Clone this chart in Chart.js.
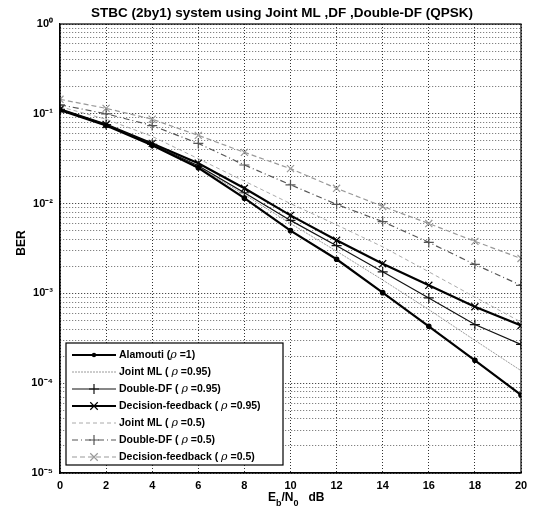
<!DOCTYPE html>
<html lang="en">
  <head>
    <meta charset="UTF-8" />
    <title>STBC BER</title>
    <script src="https://cdn.jsdelivr.net/npm/chart.js@4.4.0/dist/chart.umd.min.js"></script>
    <style>
      body { margin: 0; background: #fff; }
    </style>
  </head>
  <body>
    <canvas id="myChart" width="537" height="516"></canvas>

    <script>
      // Eb/N0 (dB) and BER values
      const snr = [0, 2, 4, 6, 8, 10, 12, 14, 16, 18, 20];
      const alamouti = [0.110, 0.074, 0.0447, 0.0251, 0.0115, 0.0050, 0.0024, 0.00102, 4.3e-4, 1.8e-4, 7.4e-5];
      const jointMl95 = [0.110, 0.074, 0.0447, 0.0257, 0.0126, 0.0060, 0.00295, 0.00141, 6.6e-4, 3.0e-4, 1.38e-4];
      const doubleDf95 = [0.112, 0.076, 0.0457, 0.0263, 0.0132, 0.0065, 0.0034, 0.00174, 8.9e-4, 4.5e-4, 2.7e-4];
      const decFb95 = [0.112, 0.076, 0.0468, 0.0282, 0.0148, 0.0074, 0.0039, 0.00214, 0.00123, 7.1e-4, 4.4e-4];
      const jointMl5 = [0.120, 0.087, 0.056, 0.0316, 0.0178, 0.0100, 0.0058, 0.0033, 0.00174, 9.1e-4, 4.8e-4];
      const doubleDf5 = [0.126, 0.100, 0.074, 0.0468, 0.0269, 0.0162, 0.0098, 0.0063, 0.0037, 0.0021, 0.00123];
      const decFb5 = [0.145, 0.115, 0.087, 0.0575, 0.0372, 0.0245, 0.0148, 0.0093, 0.0060, 0.0038, 0.00245];

      const xTicks = [0, 2, 4, 6, 8, 10, 12, 14, 16, 18, 20];
      const yMajors = [1, 1e-1, 1e-2, 1e-3, 1e-4, 1e-5];
      const yLabels = ["10\u2070", "10\u207B\u00B9", "10\u207B\u00B2", "10\u207B\u00B3", "10\u207B\u2074", "10\u207B\u2075"];

      const legendNames = [
        ["Alamouti (", " =1)"],
        ["Joint ML ( ", " =0.95)"],
        ["Double-DF ( ", " =0.95)"],
        ["Decision-feedback ( ", " =0.95)"],
        ["Joint ML ( ", " =0.5)"],
        ["Double-DF ( ", " =0.5)"],
        ["Decision-feedback ( ", " =0.5)"],
      ];

      function pts(ys) {
        return snr.map((x, i) => ({ x: x, y: ys[i] }));
      }

      function series(label, ys, color, width, dash, marker, radius) {
        return {
          label: label,
          data: pts(ys),
          borderColor: color,
          backgroundColor: color,
          borderWidth: width,
          borderDash: dash,
          pointStyle: marker,
          pointRadius: radius,
          pointBorderWidth: 1.2,
          pointBorderColor: color,
          pointBackgroundColor: color,
          fill: false,
          tension: 0,
        };
      }

      const datasets = [
        series("Alamouti", alamouti, "#000", 2.2, [], "circle", 2.2),
        series("Joint ML 0.95", jointMl95, "#9a9a9a", 1, [2, 1], false, 0),
        series("Double-DF 0.95", doubleDf95, "#111", 1.2, [], "cross", 5),
        series("Decision-feedback 0.95", decFb95, "#000", 2.2, [], "crossRot", 5),
        series("Joint ML 0.5", jointMl5, "#aaa", 1, [4, 3], false, 0),
        series("Double-DF 0.5", doubleDf5, "#555", 1.2, [6, 3, 1, 3], "cross", 5),
        series("Decision-feedback 0.5", decFb5, "#999", 1.2, [5, 3], "crossRot", 5),
      ];

      function drawMarker(ctx, style, x, y, r) {
        ctx.beginPath();
        if (style === "circle") {
          ctx.arc(x, y, r, 0, Math.PI * 2);
          ctx.fill();
          return;
        }
        if (style === "cross") {
          ctx.moveTo(x - r, y); ctx.lineTo(x + r, y);
          ctx.moveTo(x, y - r); ctx.lineTo(x, y + r);
        } else if (style === "crossRot") {
          const d = r * 0.75;
          ctx.moveTo(x - d, y - d); ctx.lineTo(x + d, y + d);
          ctx.moveTo(x - d, y + d); ctx.lineTo(x + d, y - d);
        }
        ctx.stroke();
      }

      const decorations = {
        id: "decorations",
        afterDraw(chart) {
          const ctx = chart.ctx;
          const a = chart.chartArea;
          ctx.save();

          // box around axes
          ctx.setLineDash([]);
          ctx.strokeStyle = "#000";
          ctx.lineWidth = 1.2;
          ctx.strokeRect(a.left, a.top, a.right - a.left, a.bottom - a.top);

          // title
          ctx.fillStyle = "#000";
          ctx.font = "bold 13.5px 'Liberation Sans', Arial, sans-serif";
          ctx.textAlign = "center";
          ctx.textBaseline = "middle";
          ctx.fillText("STBC (2by1) system using Joint ML ,DF ,Double-DF (QPSK)", 282, 13);

          // y title
          ctx.save();
          ctx.translate(22, 243);
          ctx.rotate(-Math.PI / 2);
          ctx.font = "bold 12px 'Liberation Sans', Arial, sans-serif";
          ctx.fillText("BER", 0, 0);
          ctx.restore();

          // x title: Eb/N0 dB
          let x = 268;
          const y = 498;
          ctx.textAlign = "left";
          const big = "bold 12px 'Liberation Sans', Arial, sans-serif";
          const small = "bold 9px 'Liberation Sans', Arial, sans-serif";
          const parts = [["E", big, 0], ["b", small, 6], ["/N", big, 0], ["0", small, 6], ["   dB", big, 0]];
          parts.forEach((p) => {
            ctx.font = p[1];
            ctx.fillText(p[0], x, y + p[2]);
            x += ctx.measureText(p[0]).width;
          });

          // legend
          const bx = 66, by = 343, bw = 217, bh = 122;
          ctx.fillStyle = "#fff";
          ctx.fillRect(bx, by, bw, bh);
          ctx.strokeStyle = "#000";
          ctx.lineWidth = 1.2;
          ctx.strokeRect(bx, by, bw, bh);
          chart.data.datasets.forEach((ds, i) => {
            const ry = by + 12 + i * 17;
            ctx.strokeStyle = ds.borderColor;
            ctx.fillStyle = ds.borderColor;
            ctx.lineWidth = ds.borderWidth;
            ctx.setLineDash(ds.borderDash);
            ctx.beginPath();
            ctx.moveTo(72, ry);
            ctx.lineTo(116, ry);
            ctx.stroke();
            ctx.setLineDash([]);
            ctx.lineWidth = 1.2;
            if (ds.pointStyle) drawMarker(ctx, ds.pointStyle, 94, ry, ds.pointRadius);
            ctx.fillStyle = "#000";
            ctx.textBaseline = "middle";
            let tx = 119;
            const name = legendNames[i];
            ctx.font = "bold 10.5px 'Liberation Sans', Arial, sans-serif";
            ctx.fillText(name[0], tx, ry);
            tx += ctx.measureText(name[0]).width;
            ctx.font = "italic 11px 'DejaVu Serif', serif";
            ctx.fillText("\u03C1", tx, ry);
            tx += ctx.measureText("\u03C1").width;
            ctx.font = "bold 10.5px 'Liberation Sans', Arial, sans-serif";
            ctx.fillText(name[1], tx, ry);
          });
          ctx.restore();
        },
      };

      const ctx = document.getElementById("myChart").getContext("2d");
      const myChart = new Chart(ctx, {
        type: "line",
        data: { datasets: datasets },
        options: {
          responsive: false,
          animation: false,
          layout: { padding: { left: 0, right: 16, top: 24, bottom: 0 } },
          plugins: {
            legend: { display: false },
            title: { display: false },
            tooltip: { enabled: false },
          },
          scales: {
            x: {
              type: "linear",
              min: 0,
              max: 20,
              afterBuildTicks(scale) {
                scale.ticks = xTicks.map((v) => ({ value: v }));
              },
              afterFit(scale) {
                scale.height = 43;
              },
              ticks: {
                color: "#000",
                padding: 6,
                maxRotation: 0,
                font: { family: "'Liberation Sans', Arial, sans-serif", size: 11, weight: "bold" },
              },
              grid: { color: "#333", lineWidth: 1, drawTicks: false },
              border: { display: true, color: "#000", width: 1.2, dash: [1, 2] },
            },
            y: {
              type: "logarithmic",
              min: 1e-5,
              max: 1,
              afterBuildTicks(scale) {
                const t = [];
                for (let e = -5; e < 0; e++) {
                  for (let k = 1; k <= 9; k++) t.push({ value: k * Math.pow(10, e) });
                }
                t.push({ value: 1 });
                scale.ticks = t;
              },
              afterFit(scale) {
                scale.width = 60;
              },
              ticks: {
                color: "#000",
                padding: 7,
                autoSkip: false,
                font: { family: "'Liberation Sans', Arial, sans-serif", size: 11, weight: "bold" },
                callback(value) {
                  const idx = yMajors.findIndex((m) => Math.abs(m - value) / m < 1e-6);
                  return idx >= 0 ? yLabels[idx] : "";
                },
              },
              grid: {
                drawTicks: false,
                lineWidth: 1,
                color(c) {
                  const v = c.tick ? c.tick.value : 0;
                  const isMajor = yMajors.some((m) => Math.abs(m - v) / m < 1e-6);
                  return isMajor ? "#222" : "#666";
                },
              },
              border: { display: true, color: "#000", width: 1.2, dash: [1, 2] },
            },
          },
        },
        plugins: [decorations],
      });
    </script>
  </body>
</html>
